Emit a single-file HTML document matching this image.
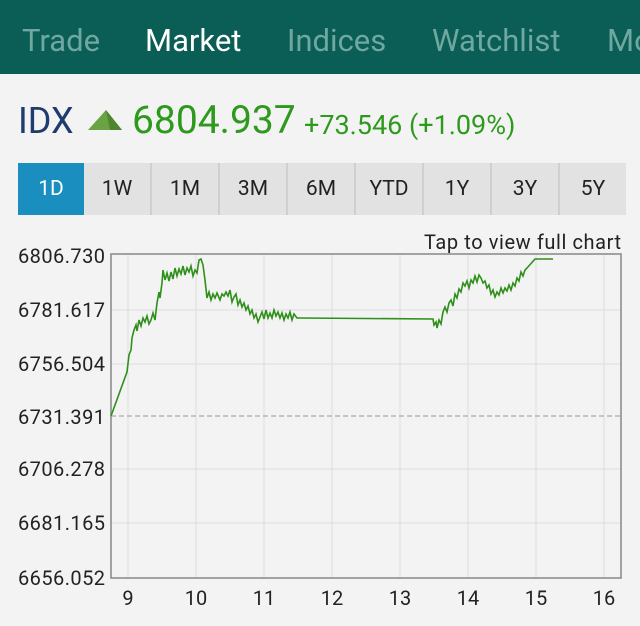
<!DOCTYPE html>
<html><head><style>
body{margin:0;width:640px;height:626px;background:#f3f3f3;font-family:"Roboto","Liberation Sans",sans-serif;overflow:hidden;position:relative}
.top{position:absolute;left:0;top:0;width:640px;height:74px;background:#0a5e55}
.tab{position:absolute;top:22px;font-size:31px;color:#6fa8a0;white-space:nowrap}
.sel{color:#fff}
.title{position:absolute;top:100px;white-space:nowrap}
.btns{position:absolute;left:18px;top:163px;height:52px;display:flex}
.b{width:66px;height:52px;background:#e2e2e2;border-right:2px solid #cfcfcf;font-size:21px;display:flex;align-items:center;justify-content:center;color:#222}
.b.a{background:#1a8fbf;color:#fff;border-right:none;width:66px}
</style></head><body>
<div class="top">
<span class="tab" style="left:22px">Trade</span>
<span class="tab sel" style="left:145px">Market</span>
<span class="tab" style="left:287px">Indices</span>
<span class="tab" style="left:432px">Watchlist</span>
<span class="tab" style="left:607px">Mo</span>
</div>
<div class="title" style="left:18px;font-size:36px;color:#1f3c6e">IDX</div>
<svg style="position:absolute;left:88px;top:110px" width="36" height="22"><polygon points="18,0 0,20 34,20" fill="#6aa343"/><polygon points="18,0 34,20 22,20" fill="#4e8530"/></svg>
<div class="title" style="left:132px;font-size:39px;color:#2e9a1d;top:97px">6804.937</div>
<div class="title" style="left:304px;font-size:27px;color:#2e9a1d;top:109px">+73.546 (+1.09%)</div>
<div class="btns">
<div class="b a">1D</div><div class="b">1W</div><div class="b">1M</div><div class="b">3M</div><div class="b">6M</div><div class="b">YTD</div><div class="b">1Y</div><div class="b">3Y</div><div class="b" style="border:none">5Y</div>
</div>
<svg style="position:absolute;left:0;top:0" width="640" height="626" font-family="Roboto,Liberation Sans,sans-serif">
<g stroke="#dcdcdc" stroke-width="1">
<line x1="128" y1="254" x2="128" y2="578"/><line x1="196" y1="254" x2="196" y2="578"/><line x1="264" y1="254" x2="264" y2="578"/><line x1="332" y1="254" x2="332" y2="578"/><line x1="400" y1="254" x2="400" y2="578"/><line x1="468" y1="254" x2="468" y2="578"/><line x1="536" y1="254" x2="536" y2="578"/><line x1="604" y1="254" x2="604" y2="578"/>
<line x1="111" y1="310" x2="621" y2="310"/><line x1="111" y1="364" x2="621" y2="364"/><line x1="111" y1="469" x2="621" y2="469"/><line x1="111" y1="523" x2="621" y2="523"/>
</g>
<line x1="111" y1="416" x2="621" y2="416" stroke="#999" stroke-dasharray="5,3"/>
<rect x="111" y="254" width="510" height="324" fill="none" stroke="#888" stroke-width="1.5"/>
<polyline fill="none" stroke="#2e8f1a" stroke-width="1.6" points="111,416 127,372 129,355 131,350 132,338 134,330 136,325 137,331 139,320 141,326 143,318 145,322 147,316 149,324 151,320 153,313 155,320 157,303 159,292 160,298 162,283 163,270 165,280 167,273 169,281 171,272 173,279 175,268 177,276 179,269 181,274 183,266 185,275 187,268 189,272 191,266 193,276 195,270 197,273 199,260 201,259 203,265 205,280 207,298 209,292 211,300 213,294 215,298 217,293 220,300 222,294 224,296 226,292 228,296 230,290 232,302 234,297 236,294 238,305 240,300 242,307 244,303 246,310 248,306 250,314 252,310 254,318 256,314 258,322 260,317 262,312 264,319 266,310 268,318 270,313 272,318 274,310 276,316 278,312 280,318 282,313 284,320 286,314 288,318 290,312 292,320 294,314 297,318 300,318 433,319 434,325 436,322 437,328 439,320 441,324 443,312 445,307 447,312 449,303 451,300 453,306 455,294 457,298 459,289 461,292 463,283 465,286 467,281 469,288 471,280 473,283 475,276 477,282 479,275 481,278 483,283 485,281 487,288 489,285 491,294 493,290 495,297 497,292 499,295 501,288 503,293 505,288 507,291 509,285 511,290 513,283 515,286 517,278 519,281 521,272 523,276 525,270 527,268 535,259 553,259"/>
<g font-size="20" fill="#222">
<text x="18" y="263" textLength="87">6806.730</text><text x="18" y="317" textLength="87">6781.617</text><text x="18" y="371" textLength="87">6756.504</text><text x="18" y="424" textLength="87">6731.391</text><text x="18" y="476" textLength="87">6706.278</text><text x="18" y="530" textLength="87">6681.165</text><text x="18" y="585" textLength="87">6656.052</text>
</g>
<text x="424" y="249" font-size="20" fill="#222" textLength="197">Tap to view full chart</text>
<g font-size="20" fill="#222" text-anchor="middle">
<text x="128" y="605">9</text><text x="196" y="605">10</text><text x="264" y="605">11</text><text x="332" y="605">12</text><text x="400" y="605">13</text><text x="468" y="605">14</text><text x="536" y="605">15</text><text x="604" y="605">16</text>
</g>
</svg>
</body></html>
